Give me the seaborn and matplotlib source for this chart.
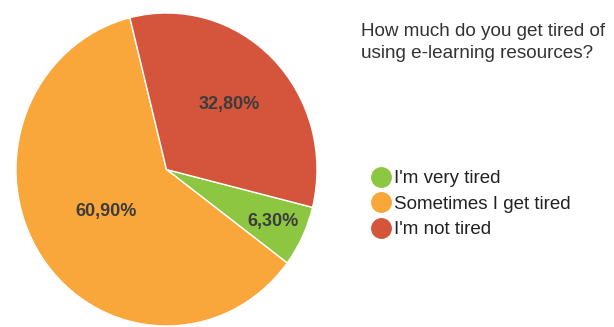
import matplotlib
matplotlib.use("Agg")
import matplotlib.pyplot as plt
from matplotlib.lines import Line2D
import seaborn as sns
import numpy as np

categories = ["I'm very tired", "Sometimes I get tired", "I'm not tired"]
values = [6.3, 60.9, 32.8]
pct_labels = ["6,30%", "60,90%", "32,80%"]
title = "How much do you get tired of\nusing e-learning resources?"

colors = ["#8dc641", "#f9a73a", "#d4553b"]
label_dist = [0.78, 0.48, 0.59]

sns.set_theme(style="white")
plt.rcParams['font.family'] = ['Liberation Sans', 'DejaVu Sans']

fig = plt.figure(figsize=(6.14, 3.27), dpi=100)
ax = fig.add_axes([16/614, 1/327, 301/614, 313/327])
wedges, _ = ax.pie(values, colors=colors, startangle=-14, counterclock=False,
                   wedgeprops=dict(edgecolor="white", linewidth=1.0))
ax.set_aspect("auto")
ax.set_xlim(-1, 1)
ax.set_ylim(-1, 1)
ax.axis("off")

for w, lab, d in zip(wedges, pct_labels, label_dist):
    ang = np.deg2rad((w.theta1 + w.theta2) / 2)
    ax.text(d * np.cos(ang), d * np.sin(ang), lab, ha="center", va="center",
            fontsize=13, fontweight="bold", color="#3c3c3c")

fig.text(361/614, 1 - 23/327, title, ha="left", va="top", fontsize=13.6,
         color="#333333", linespacing=1.38)

handles = [Line2D([], [], marker="o", linestyle="none", markersize=14,
                  markerfacecolor=c, markeredgecolor=c) for c in colors]
fig.legend(handles, categories, loc="upper left", bbox_to_anchor=(372/614, 1 - 170/327),
           frameon=False, fontsize=13.5, handletextpad=0.15, labelspacing=0.45,
           borderaxespad=0, borderpad=0, handlelength=1.0, labelcolor="#222222")

fig.savefig("out.png", dpi=100, facecolor="white")
